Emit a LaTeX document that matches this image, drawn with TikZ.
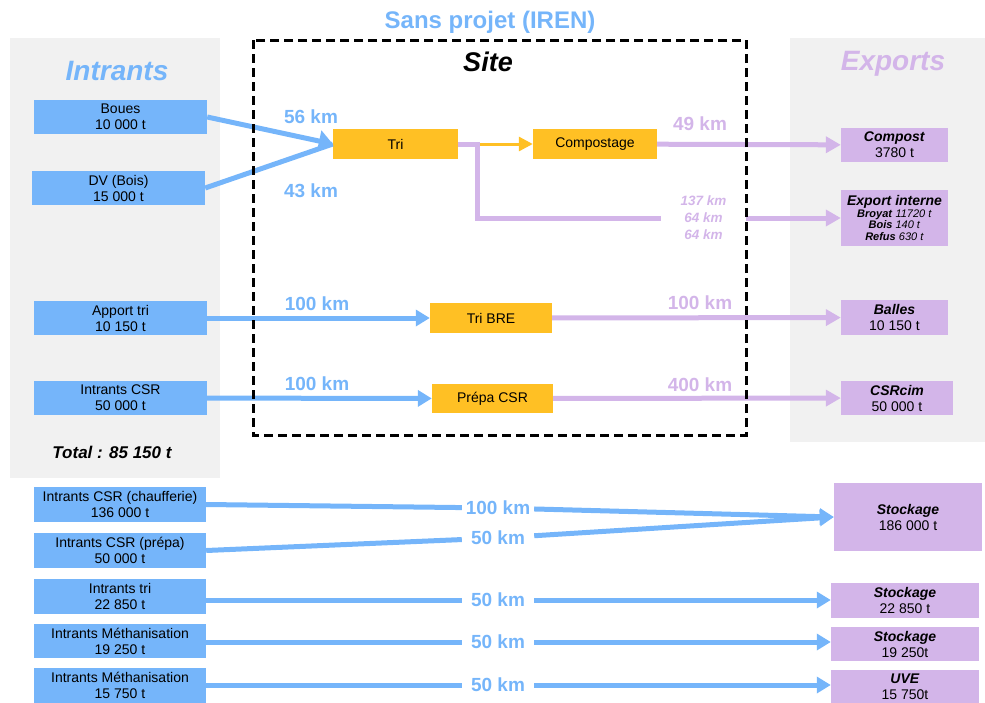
\documentclass[tikz,border=0pt]{standalone}
\usepackage{fontspec}
\setmainfont{Liberation Sans}
\usetikzlibrary{arrows.meta}

\definecolor{bleu}{RGB}{117,181,250}
\definecolor{jaune}{RGB}{255,192,36}
\definecolor{mauve}{RGB}{211,181,233}
\definecolor{gris}{RGB}{241,241,241}

\newcommand{\taille}[2]{\fontsize{#1}{#2}\selectfont}

\begin{document}
\begin{tikzpicture}[x=1pt,y=-1pt,
    boite/.style={rectangle,inner sep=0pt,align=center,font=\taille{14}{16}},
    intrant/.style={boite,fill=bleu,minimum width=173pt,minimum height=34pt},
    procede/.style={boite,fill=jaune,minimum width=123pt,minimum height=30pt},
    sortie/.style={boite,fill=mauve,minimum width=107pt,minimum height=34pt},
    lienb/.style={draw=bleu,line width=5pt},
    fluxb/.style={lienb,-{Triangle[length=14pt,width=16pt]}},
    lienm/.style={draw=mauve,line width=5pt},
    fluxm/.style={lienm,-{Triangle[length=15pt,width=16pt]}},
    kmb/.style={text=bleu,font=\taille{19}{19}\bfseries},
    kmm/.style={text=mauve,font=\taille{19}{19}\bfseries}]
    \useasboundingbox (0,0) rectangle (985,702);

    % fonds
    \fill[gris] (10,38) rectangle (220,478);
    \fill[gris] (790,38) rectangle (985,442);

    % titres
    \node[text=bleu,font=\taille{24}{24}\bfseries] (titre) at (490,22) {Sans projet (IREN)};
    \node[text=bleu,font=\taille{28}{28}\bfseries\itshape] (tintrants) at (117,71) {Intrants};
    \node[text=mauve,font=\taille{28}{28}\bfseries\itshape] (texports) at (893,64) {Exports};
    \node[font=\taille{27}{27}\bfseries\itshape] (tsite) at (488,62) {Site};
    \node[font=\taille{17}{17}\bfseries\itshape] (total) at (112,452) {Total : 85 150 t};

    % intrants
    \node[intrant] (boues) at (120.5,117) {Boues\\10 000 t};
    \node[intrant] (dv) at (118.5,188) {DV (Bois)\\15 000 t};
    \node[intrant] (apport) at (120.5,318) {Apport tri\\ 10 150 t};
    \node[intrant] (icsr) at (120.5,398) {Intrants CSR\\50 000 t};
    \node[intrant,minimum width=172pt,minimum height=35pt] (chauf) at (120,504.5) {Intrants CSR (chaufferie)\\136 000 t};
    \node[intrant,minimum width=172pt,minimum height=35pt] (prepa) at (120,550.5) {Intrants CSR (prépa)\\50 000 t};
    \node[intrant,minimum width=172pt,minimum height=35pt] (itri) at (120,596.5) {Intrants tri\\22 850 t};
    \node[intrant,minimum width=172pt] (meth1) at (120,641) {Intrants Méthanisation\\19 250 t};
    \node[intrant,minimum width=172pt,minimum height=35pt] (meth2) at (120,685) {Intrants Méthanisation\\15 750 t};

    % procedes du site
    \node[procede,minimum width=125pt] (tri) at (395.5,144) {Tri};
    \node[procede,minimum width=124pt] (compo) at (595,144) {Compostage};
    \node[procede,minimum width=122pt] (tribre) at (491,318) {Tri BRE};
    \node[procede,minimum width=121pt,minimum height=29pt] (prepacsr) at (492.5,398.5) {Prépa CSR};

    % exports
    \node[sortie] (compost) at (894.5,145) {\textbf{\textit{Compost}}\\3780 t};
    \node[sortie,minimum height=56pt,font=\taille{11}{11.5}] (expint) at (894.5,218)
        {{\taille{14}{11.5}\textbf{\textit{Export interne}}}\\\textbf{\textit{Broyat}} \textit{11720 t}\\\textbf{\textit{Bois}} \textit{140 t}\\\textbf{\textit{Refus}} \textit{630 t}};
    \node[sortie,minimum height=35pt] (balles) at (894.5,317.5) {\textbf{\textit{Balles}}\\10 150 t};
    \node[sortie,minimum width=112pt] (csrcim) at (897,398) {\textbf{\textit{CSRcim}}\\50 000 t};
    \node[sortie,minimum width=148pt,minimum height=68pt] (stock1) at (908,517) {\textbf{\textit{Stockage}}\\186 000 t};
    \node[sortie,minimum width=148pt,minimum height=35pt] (stock2) at (905,600.5) {\textbf{\textit{Stockage}}\\22 850 t};
    \node[sortie,minimum width=148pt] (stock3) at (905,644) {\textbf{\textit{Stockage}}\\19 250t};
    \node[sortie,minimum width=148pt] (uve) at (905,687) {\textbf{\textit{UVE}}\\15 750t};

    % distances
    \node[kmb] (d1) at (311,117) {56 km};
    \node[kmb] (d2) at (311,191) {43 km};
    \node[kmb] (d3) at (317,304) {100 km};
    \node[kmb] (d4) at (317,384) {100 km};
    \node[kmm] (d5) at (700,124) {49 km};
    \node[kmm] (d6) at (700,303) {100 km};
    \node[kmm] (d7) at (700,385) {400 km};
    \node[text=mauve,font=\taille{13.5}{17}\bfseries\itshape,align=center,minimum width=85pt,inner sep=0pt] (d8) at (703.5,218) {137 km\\64 km\\64 km};
    \node[kmb,minimum width=72pt,inner sep=0pt] (k1) at (498,508) {100 km};
    \node[kmb,minimum width=72pt,inner sep=0pt] (k2) at (498,538) {50 km};
    \node[kmb,minimum width=72pt,inner sep=0pt] (k3) at (498,600) {50 km};
    \node[kmb,minimum width=72pt,inner sep=0pt] (k4) at (498,642) {50 km};
    \node[kmb,minimum width=72pt,inner sep=0pt] (k5) at (498,685) {50 km};
    \coordinate (coude) at (477,218);

    % flux vers le site
    \draw[fluxb,-{Triangle[length=14pt,width=21pt]}] (boues.east) -- (tri.west);
    \draw[lienb] (dv.east) -- (tri.west);
    \draw[fluxb] (apport) -- (tribre);
    \draw[fluxb] (icsr) -- (prepacsr);
    \draw[draw=jaune,line width=3pt,-{Triangle[length=14pt,width=14pt]}] (tri) -- (compo);

    % flux sortants
    \draw[lienm] (tri.east) -| (coude) -- (d8);
    \draw[fluxm] (d8) -- (expint);
    \draw[fluxm] (compo) -- (compost);
    \draw[fluxm] (tribre) -- (balles);
    \draw[fluxm] (prepacsr) -- (csrcim);

    % flux hors site
    \draw[lienb] (chauf.east) -- (k1);
    \draw[fluxb] (k1) -- (stock1.west);
    \draw[lienb] (prepa.east) -- (k2);
    \draw[fluxb] (k2) -- (stock1.west);
    \draw[lienb] (itri.east |- k3) -- (k3);
    \draw[fluxb] (k3) -- (k3 -| stock2.west);
    \draw[lienb] (meth1.east |- k4) -- (k4);
    \draw[fluxb] (k4) -- (k4 -| stock3.west);
    \draw[lienb] (meth2.east |- k5) -- (k5);
    \draw[fluxb] (k5) -- (k5 -| uve.west);

    % limite du site
    \draw[line width=3pt,dash pattern=on 9pt off 5pt] (253,40) rectangle (746,435);
\end{tikzpicture}
\end{document}
